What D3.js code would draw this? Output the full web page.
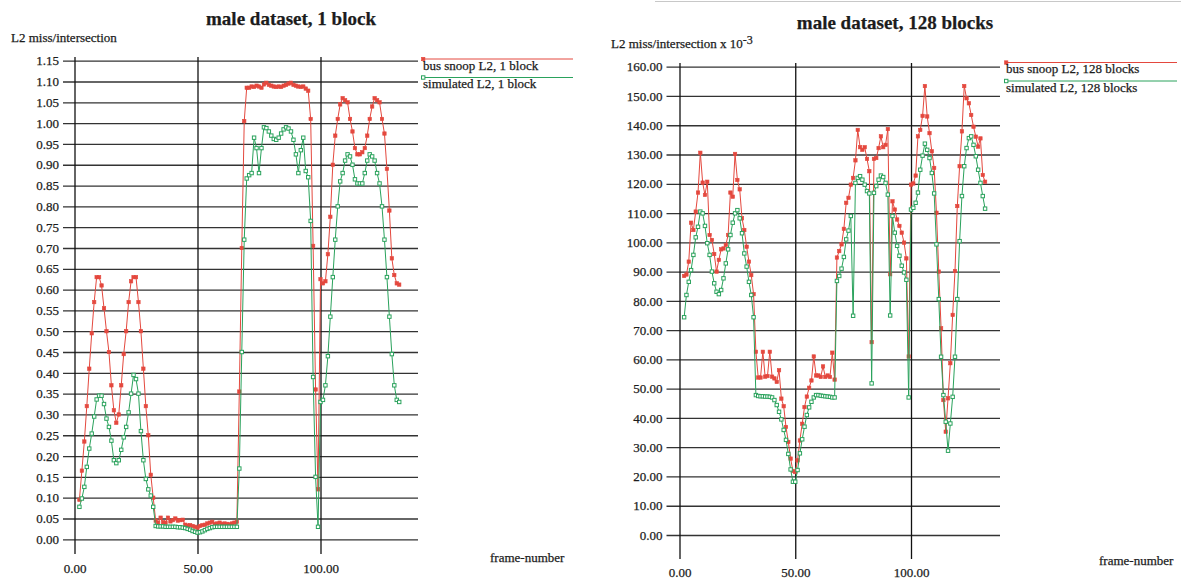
<!DOCTYPE html>
<html>
<head>
<meta charset="utf-8">
<script src="https://cdn.jsdelivr.net/npm/d3@7"></script>
<style>
  html, body { margin: 0; padding: 0; background: #fff; }
  svg { display: block; font-family: "Liberation Serif", "Times New Roman", serif; }
  svg text { stroke: #1c1c1c; stroke-width: 0.25px; }
</style>
</head>
<body>
<svg id="chart" width="1181" height="579"></svg>
<script>
// Frame numbers sampled in both experiments
const frames = [2,3,4,5,6,7,8,9,10,11,12,13,14,15,16,17,18,19,20,21,22,23,24,25,26,27,28,29,30,31,32,33,
  34,35,36,37,38,39,40,41,42,43,44,45,46,47,48,49,50,51,52,53,54,55,56,57,58,59,60,61,62,63,64,65,66,
  67,68,69,70,71,72,73,74,75,76,77,78,79,80,81,82,83,84,85,86,87,88,89,90,91,92,93,94,95,96,97,98,99,
  100,101,102,103,104,105,106,107,108,109,110,111,112,113,114,115,116,117,118,119,120,121,122,123,124,125,126,127,128,129,130,131,132];

// L2 misses per intersection, 1 block
const busSnoop1 = [0.095,0.165,0.235,0.32,0.41,0.495,0.57,0.63,0.63,0.61,0.555,0.50,0.45,0.37,0.31,0.28,0.30,0.37,0.445,0.50,0.57,0.62,0.63,0.63,0.57,0.50,0.41,0.32,0.25,0.155,0.10,0.045,
  0.04,0.052,0.041,0.04,0.052,0.043,0.046,0.05,0.045,0.046,0.047,0.035,0.033,0.034,0.032,0.03,0.028,0.032,0.034,0.035,0.038,0.04,0.042,0.037,0.038,0.04,0.037,0.038,0.037,0.036,0.038,0.04,0.042,
  0.355,0.70,1.005,1.085,
  1.085,1.088,1.087,1.09,1.088,1.085,1.093,1.097,1.092,1.09,1.088,1.087,1.088,1.087,1.09,1.092,1.095,1.097,1.092,1.09,1.088,1.087,1.088,1.083,1.078,
  1.01,0.705,0.36,0.12,
  0.625,0.615,0.62,0.685,0.775,0.90,0.97,1.01,1.045,1.06,1.055,1.05,1.01,0.98,0.94,0.925,0.925,0.93,0.94,0.97,1.01,1.04,1.06,1.055,1.05,1.01,0.975,0.89,0.79,0.675,0.635,0.615,0.612];

const simulated1 = [0.078,0.098,0.126,0.174,0.218,0.254,0.295,0.336,0.345,0.345,0.325,0.29,0.27,0.237,0.19,0.183,0.19,0.215,0.245,0.27,0.305,0.35,0.395,0.385,0.35,0.26,0.19,0.145,0.12,0.105,0.078,0.032,
  0.031,0.031,0.031,0.03,0.03,0.03,0.03,0.03,0.029,0.029,0.028,0.027,0.025,0.023,0.02,0.018,0.016,0.017,0.019,0.022,0.025,0.027,0.029,0.03,0.03,0.03,0.03,0.03,0.03,0.03,0.03,0.03,0.03,
  0.17,0.45,0.72,0.867,0.875,0.88,0.965,0.94,0.88,0.94,0.99,0.988,0.98,0.97,0.962,0.96,0.965,0.975,0.985,0.99,0.987,0.98,0.96,0.925,0.88,0.935,0.965,0.885,0.87,0.765,0.39,0.15,0.03,
  0.33,0.335,0.37,0.44,0.535,0.63,0.72,0.80,0.86,0.88,0.91,0.925,0.92,0.90,0.865,0.855,0.855,0.855,0.88,0.91,0.925,0.92,0.91,0.88,0.855,0.80,0.72,0.63,0.535,0.445,0.37,0.335,0.33];

// L2 misses per intersection (x 10^-3), 128 blocks
const busSnoop128 = [88.5,89,93.4,106.7,104.2,110.5,117,130.6,120.4,116.2,120.7,102.5,100.8,96,90,94,97.6,97.9,99.1,102.5,117,115.6,130.2,121.3,118.1,108.2,104.2,98.5,93.4,88.8,82.3,
  62.6,53.8,53.8,62.6,54.1,54.3,62.6,54.1,53.5,52.3,56.3,46.6,44,36.9,31.8,26.1,21.9,21.5,25.5,32.3,38,43.7,47.3,50.3,52.8,61,54.5,54.5,54,57.6,54,54.5,54,62.3,53.1,
  94.8,97,99.3,104.6,113.5,115.2,119.7,122,128,138.4,132.5,131.6,132.5,128.5,124.3,65.9,128.5,128.8,132.2,136.2,132.5,133.3,138.7,89.1,114,111.2,107.8,105.6,103.3,99.9,94.5,61,
  119.7,120.1,122.8,136.2,138.4,143.2,153.4,143,137.3,131.1,125.4,110.1,90,70.6,46.1,35.3,46.7,58.7,75.2,90.2,112.4,126,137.9,153.4,149.2,147.5,143.5,139.5,136.1,132.7,135.5,123,120.7];

const simulated128 = [74.4,82,86.5,90.5,95.7,101.7,105.3,110.5,109.9,105.6,99.7,95.7,90,86,83.1,82.3,83.7,87.7,92.8,97.6,102.5,106.7,109.9,111,108.2,103.1,96.2,91.7,86.5,82,74.4,
  47.8,47.5,47.4,47.4,47.3,47.3,47.2,47,46.1,44.4,42.1,39.5,35.9,32.5,27.7,22.4,18.2,18.2,22.2,27.9,32.7,37,41,43.6,45.5,47,47.8,47.8,47.6,47.5,47.4,47.3,47.2,47,47,
  86.8,88.5,91,95,101,104,109,74.9,120.3,122,122.6,121.4,119.7,117.5,116.7,51.8,116.9,119.2,121.4,122.8,122.3,120.3,116.3,75,109,103.3,98.8,95.4,92,89.7,87.2,47,
  111.2,111.8,113.5,117,124.8,129.6,133.7,131.6,128.8,123.7,116.7,99.3,80.6,60.9,47.8,38.7,28.8,38.1,47.2,60.9,80.6,100.4,115.8,126,132.2,135.6,136.2,133.3,129.4,124.8,120.3,115.8,111.5];

// Axis ticks
const xTicks = [0, 50, 100];
const yTicks1 = [0,0.05,0.10,0.15,0.20,0.25,0.30,0.35,0.40,0.45,0.50,0.55,0.60,0.65,0.70,0.75,0.80,0.85,0.90,0.95,1.00,1.05,1.10,1.15];
const yTicks128 = [0,10,20,30,40,50,60,70,80,90,100,110,120,130,140,150,160];

const RED = "#e4483e";
const GREEN = "#2aa25c";
const INK = "#1c1c1c";
const FONT = '"Liberation Serif", "Times New Roman", serif';

const svg = d3.select("#chart");

// faint edge line along the top of the right page
svg.append("line")
  .attr("x1", 655).attr("x2", 1181).attr("y1", 1.5).attr("y2", 1.5)
  .attr("stroke", "#c8c8c8").attr("stroke-width", 1);

function drawPanel(p) {
  const g = svg.append("g");
  const x = d3.scaleLinear().domain([0, 100]).range([p.x0, p.x100]);
  const y = d3.scaleLinear().domain([0, p.yMax]).range([p.y0, p.yTop]);

  // horizontal grid lines with value labels
  const yAxis = d3.axisLeft(y)
    .tickValues(p.yTicks)
    .tickFormat(d3.format(".2f"))
    .tickSize(-(p.gridRight - p.gridLeft))
    .tickPadding(4);
  const gy = g.append("g")
    .attr("transform", `translate(${p.gridLeft},0)`)
    .call(yAxis);
  gy.select(".domain").remove();
  gy.attr("font-family", FONT).attr("font-size", 13);
  gy.selectAll(".tick line").attr("stroke", "#333").attr("stroke-width", 1.3);
  gy.selectAll(".tick text").attr("fill", INK);

  // vertical grid lines with frame labels
  const xAxis = d3.axisBottom(x)
    .tickValues(xTicks)
    .tickFormat(d3.format(".2f"))
    .tickSize(-(p.vBottom - p.vTop))
    .tickPadding(p.xPad);
  const gx = g.append("g")
    .attr("transform", `translate(0,${p.vBottom})`)
    .call(xAxis);
  gx.select(".domain").remove();
  gx.attr("font-family", FONT).attr("font-size", 13);
  gx.selectAll(".tick line").attr("stroke", "#111").attr("stroke-width", 1.3);
  gx.selectAll(".tick text").attr("fill", INK);

  // data series
  const line = d3.line().x((d, i) => x(frames[i])).y(d => y(d));
  p.series.forEach(s => {
    g.append("path")
      .datum(s.values)
      .attr("fill", "none")
      .attr("stroke", s.color)
      .attr("stroke-width", 1)
      .attr("d", line);
    const ms = 3.4;
    g.append("g").selectAll("rect")
      .data(s.values)
      .join("rect")
      .attr("x", (d, i) => x(frames[i]) - ms / 2)
      .attr("y", d => y(d) - ms / 2)
      .attr("width", ms).attr("height", ms)
      .attr("fill", s.open ? "#fff" : s.color)
      .attr("stroke", s.color)
      .attr("stroke-width", s.open ? 1 : 0.6);
  });

  // title
  g.append("text")
    .attr("x", p.titleX).attr("y", p.titleY)
    .attr("text-anchor", "middle")
    .attr("font-family", FONT).attr("font-size", 19).attr("font-weight", "bold")
    .attr("fill", INK)
    .text(p.title);

  // y axis caption
  const yl = g.append("text")
    .attr("x", p.yLabelX).attr("y", p.yLabelY)
    .attr("font-family", FONT).attr("font-size", 13)
    .attr("fill", INK)
    .text(p.yLabel);
  if (p.yLabelSup) {
    yl.append("tspan").attr("dy", -4).attr("font-size", 12).text(p.yLabelSup);
  }

  // x axis caption
  g.append("text")
    .attr("x", p.xLabelX).attr("y", p.xLabelY)
    .attr("font-family", FONT).attr("font-size", 13)
    .attr("fill", INK)
    .text("frame-number");

  // legend
  p.series.forEach((s, k) => {
    const ly = p.legendY[k];
    g.append("line")
      .attr("x1", p.legendX).attr("x2", p.legendX2)
      .attr("y1", ly).attr("y2", ly)
      .attr("stroke", s.color).attr("stroke-width", 1);
    g.append("rect")
      .attr("x", p.legendX - 1.5).attr("y", ly - 1.7)
      .attr("width", 3.4).attr("height", 3.4)
      .attr("fill", s.open ? "#fff" : s.color)
      .attr("stroke", s.color).attr("stroke-width", s.open ? 1 : 0.6);
    g.append("text")
      .attr("x", p.legendX).attr("y", ly + 10.5)
      .attr("font-family", FONT).attr("font-size", 13)
      .attr("fill", INK)
      .text(s.name);
  });
}

drawPanel({
  x0: 74.5, x100: 320.5,
  yMax: 1.15, y0: 539.3, yTop: 60.7,
  yTicks: yTicks1,
  gridLeft: 63, gridRight: 418,
  vTop: 57, vBottom: 554, xPad: 10,
  title: "male dataset, 1 block", titleX: 291, titleY: 25,
  yLabel: "L2 miss/intersection", yLabelX: 11, yLabelY: 42,
  xLabelX: 490, xLabelY: 562,
  legendX: 423, legendX2: 573, legendY: [59, 77.5],
  series: [
    { name: "bus snoop L2, 1 block", values: busSnoop1, color: RED, open: false },
    { name: "simulated L2, 1 block", values: simulated1, color: GREEN, open: true }
  ]
});

drawPanel({
  x0: 679.5, x100: 911,
  yMax: 160, y0: 535, yTop: 66.7,
  yTicks: yTicks128,
  gridLeft: 666.5, gridRight: 1000,
  vTop: 63, vBottom: 559, xPad: 9,
  title: "male dataset, 128 blocks", titleX: 895, titleY: 29,
  yLabel: "L2 miss/intersection x 10", yLabelSup: "-3", yLabelX: 611, yLabelY: 48,
  xLabelX: 1099, xLabelY: 565,
  legendX: 1006, legendX2: 1177, legendY: [62.5, 81],
  series: [
    { name: "bus snoop L2, 128 blocks", values: busSnoop128, color: RED, open: false },
    { name: "simulated L2, 128 blocks", values: simulated128, color: GREEN, open: true }
  ]
});
</script>
</body>
</html>
